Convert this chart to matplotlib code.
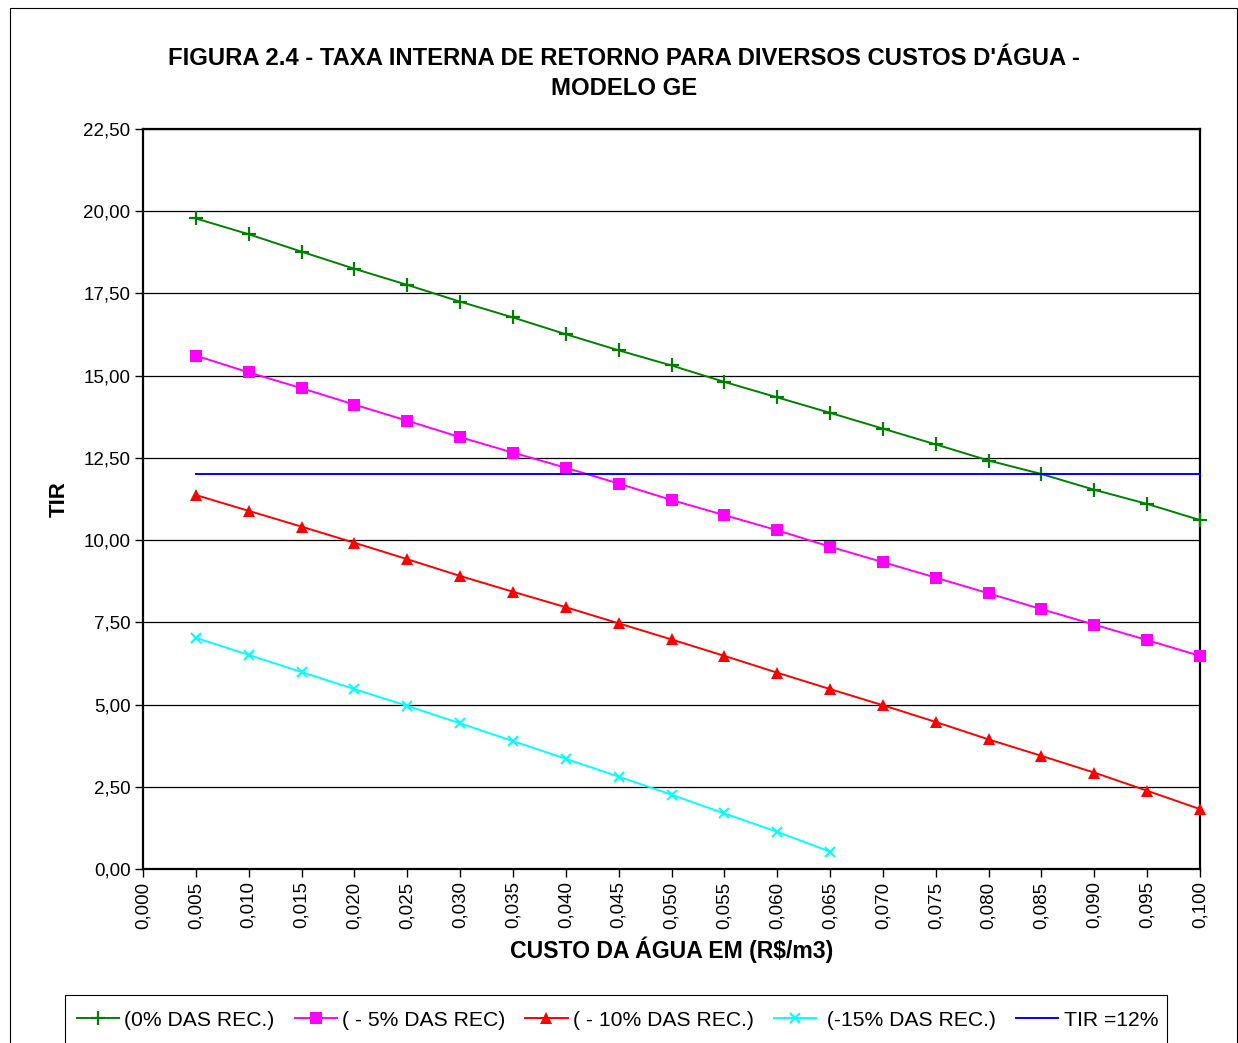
import matplotlib
matplotlib.use("Agg")
import matplotlib.pyplot as plt
from matplotlib.patches import Rectangle

plt.rcParams['font.family'] = ['Liberation Sans', 'DejaVu Sans']

# ---- data ----
custo = [0.005, 0.010, 0.015, 0.020, 0.025, 0.030, 0.035, 0.040, 0.045, 0.050,
         0.055, 0.060, 0.065, 0.070, 0.075, 0.080, 0.085, 0.090, 0.095, 0.100]
rec_0 = [19.78, 19.30, 18.77, 18.25, 17.76, 17.25, 16.77, 16.26, 15.77, 15.31,
         14.81, 14.34, 13.87, 13.39, 12.91, 12.42, 12.01, 11.53, 11.10, 10.61]
rec_5 = [15.61, 15.10, 14.62, 14.12, 13.63, 13.13, 12.66, 12.20, 11.72, 11.22,
         10.76, 10.30, 9.80, 9.33, 8.86, 8.38, 7.90, 7.43, 6.96, 6.48]
rec_10 = [11.37, 10.89, 10.41, 9.92, 9.42, 8.91, 8.43, 7.96, 7.47, 6.98,
          6.48, 5.97, 5.47, 4.98, 4.47, 3.94, 3.44, 2.93, 2.38, 1.82]
custo_15 = [0.005, 0.010, 0.015, 0.020, 0.025, 0.030, 0.035, 0.040, 0.045, 0.050,
            0.055, 0.060, 0.065]
rec_15 = [7.03, 6.51, 5.99, 5.47, 4.96, 4.43, 3.89, 3.35, 2.81, 2.26,
          1.69, 1.13, 0.53]
tir = [12.0] * len(custo)

x_ticks = [0.000, 0.005, 0.010, 0.015, 0.020, 0.025, 0.030, 0.035, 0.040, 0.045, 0.050,
           0.055, 0.060, 0.065, 0.070, 0.075, 0.080, 0.085, 0.090, 0.095, 0.100]
x_tick_labels = ['0,000', '0,005', '0,010', '0,015', '0,020', '0,025', '0,030', '0,035',
                 '0,040', '0,045', '0,050', '0,055', '0,060', '0,065', '0,070', '0,075',
                 '0,080', '0,085', '0,090', '0,095', '0,100']
y_ticks = [0.0, 2.5, 5.0, 7.5, 10.0, 12.5, 15.0, 17.5, 20.0, 22.5]
y_tick_labels = ['0,00', '2,50', '5,00', '7,50', '10,00', '12,50', '15,00', '17,50',
                 '20,00', '22,50']

title = "FIGURA 2.4 - TAXA INTERNA DE RETORNO PARA DIVERSOS CUSTOS D'ÁGUA -\nMODELO GE"
labels = ['(0% DAS REC.)', '( - 5% DAS REC)', '( - 10% DAS REC.)', ' (-15% DAS REC.)', 'TIR =12%']

W, H = 1238, 1043
fig = plt.figure(figsize=(W / 100, H / 100), dpi=100)
fig.patch.set_facecolor('white')

# outer chart border
fig.add_artist(Rectangle((10 / W, -0.01), (1237 - 10) / W, 1 - 8 / H + 0.01,
                         transform=fig.transFigure, fill=False, edgecolor='black',
                         linewidth=0.8, clip_on=False))

ax = fig.add_axes([143 / W, 1 - 869 / H, (1200 - 143) / W, (869 - 129) / H])

lw = 1.4
ax.plot(custo, rec_0, color='#008000', lw=lw, marker='+', ms=10, mew=1.6, clip_on=False,
        zorder=3, label=labels[0])
ax.plot(custo, rec_5, color='#FF00FF', lw=lw, marker='s', ms=8.5, mew=0, clip_on=False,
        zorder=3, label=labels[1])
ax.plot(custo, rec_10, color='#FF0000', lw=lw, marker='^', ms=8.5, mew=0, clip_on=False,
        zorder=3, label=labels[2])
ax.plot(custo_15, rec_15, color='#00FFFF', lw=lw, marker='x', ms=7.5, mew=1.5, clip_on=False,
        zorder=3, label=labels[3])
ax.plot(custo, tir, color='#0000FF', lw=lw, clip_on=False, zorder=3, label=labels[4])

ax.set_xlim(0.0, 0.100)
ax.set_ylim(0.0, 22.5)
ax.set_xticks(x_ticks)
ax.set_xticklabels(x_tick_labels, rotation=90, fontsize=13.5)
ax.set_yticks(y_ticks)
ax.set_yticklabels(y_tick_labels, fontsize=13.5)
ax.tick_params(axis='both', direction='out', length=6, width=1, color='black', pad=3)

ax.grid(axis='y', color='black', linewidth=0.9)
ax.set_axisbelow(True)
for s in ax.spines.values():
    s.set_linewidth(1.6)
    s.set_color('black')

ax.set_xlabel('CUSTO DA ÁGUA EM (R$/m3)', fontsize=16.6, fontweight='bold', labelpad=6)
ax.set_ylabel('TIR', fontsize=16, fontweight='bold', labelpad=10)

fig.text(624 / W, 1 - 73.5 / H, title, ha='center', va='center', fontsize=17.2,
         fontweight='bold', linespacing=1.37)

# legend box
fig.add_artist(Rectangle((65 / W, -0.02), (1167 - 65) / W, 1 - 995 / H + 0.02,
                         transform=fig.transFigure, fill=False, edgecolor='black',
                         linewidth=0.8, clip_on=False))
handles, lbls = ax.get_legend_handles_labels()
fig.legend(handles, lbls, loc='center', bbox_to_anchor=(617.5 / W, 1 - 1020 / H),
           ncol=5, frameon=False, fontsize=15.2, handlelength=2.0, handletextpad=0.25,
           columnspacing=0.95, borderaxespad=0)

fig.savefig('out.png', dpi=100)
